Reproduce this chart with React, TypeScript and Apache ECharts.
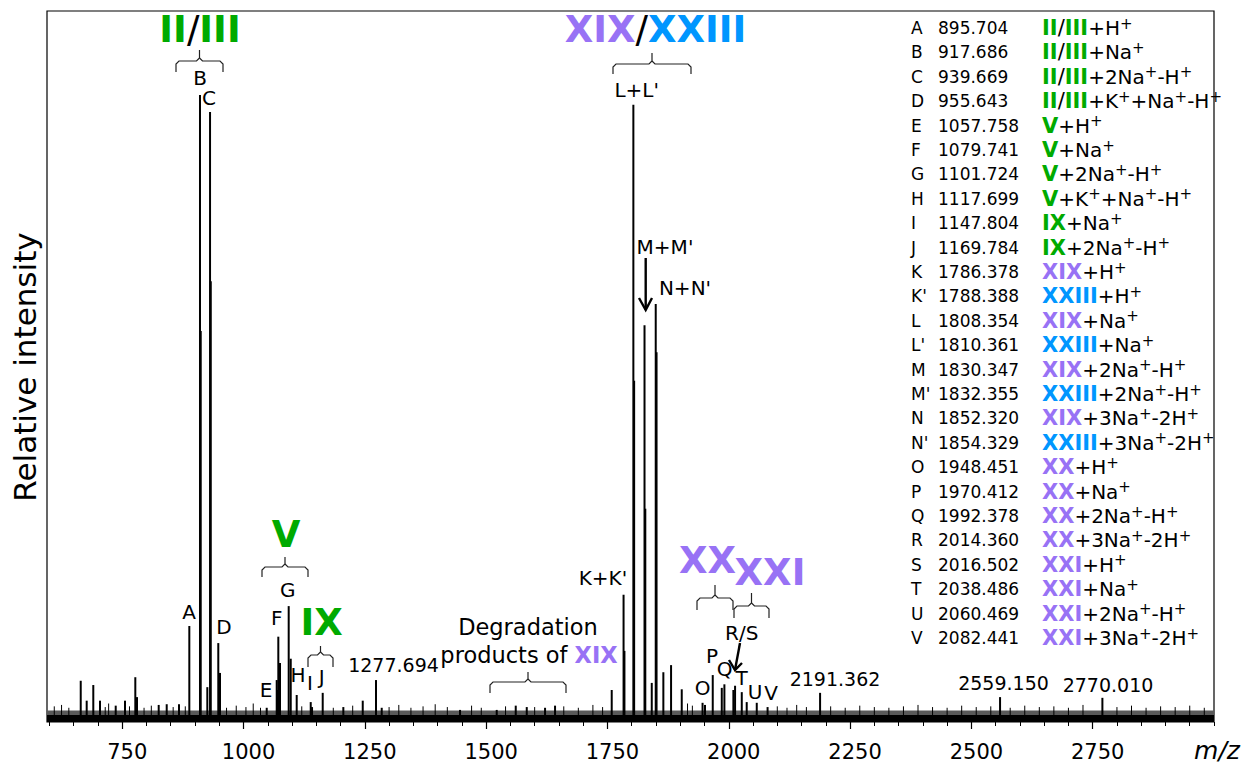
import React, { useEffect, useRef } from "react";
import * as echarts from "echarts";

// ---------- data ----------
const MZ_MIN = 595;
const MZ_MAX = 3000;
const MAJOR_TICKS = [750, 1000, 1250, 1500, 1750, 2000, 2250, 2500, 2750];
const MINOR_TICKS = [600, 650, 700, 800, 850, 900, 950, 1050, 1100, 1150, 1200, 1300, 1350, 1400, 1450, 1550, 1600, 1650, 1700, 1800, 1850, 1900, 1950, 2050, 2100, 2150, 2200, 2300, 2350, 2400, 2450, 2550, 2600, 2650, 2700, 2800, 2850, 2900, 2950, 3000];

// main peaks: m/z and relative intensity
const PEAK_MZ = [664.5, 676.8, 690.4, 704.2, 736.6, 755.8, 777.0, 780.5, 825.2, 841.7, 867.0, 888.3, 910.3, 911.8, 925.4, 931.0, 932.5, 948.0, 951.5, 1047.8, 1068.4, 1069.5, 1071.7, 1075.2, 1093.1, 1097.3, 1109.6, 1138.5, 1141.2, 1163.2, 1205.7, 1245.7, 1273.0, 1284.8, 1446.2, 1521.8, 1561.0, 1583.7, 1621.4, 1642.0, 1758.8, 1783.2, 1785.0, 1803.4, 1805.0, 1826.4, 1828.0, 1841.3, 1849.5, 1851.2, 1865.2, 1881.1, 1903.1, 1946.0, 1951.0, 1967.0, 1985.6, 1991.0, 2009.5, 2013.0, 2026.8, 2037.0, 2057.7, 2080.0, 2188.2, 2559.1, 2770.0];
const PEAK_INT = [5.8, 3.0, 5.2, 3.0, 2.3, 3.0, 6.3, 3.5, 2.4, 2.5, 2.5, 13.5, 88.2, 55, 4.9, 85.8, 62, 11.1, 6.9, 2.0, 5.9, 4.5, 12.0, 8.3, 16.3, 8.9, 3.8, 2.8, 2.1, 4.1, 2.1, 3.0, 5.9, 2.0, 1.7, 1.7, 2.3, 2.1, 2.0, 2.3, 4.5, 17.9, 10, 86.8, 48, 55.8, 30, 5.5, 58.8, 52, 7.0, 8.0, 4.6, 2.7, 2.4, 6.6, 4.8, 5.3, 4.5, 5.1, 4.2, 2.8, 2.7, 2.1, 4.1, 3.5, 3.4];

// small noise spikes (estimated)
const NOISE_MZ = [610, 625, 640, 715, 722, 765, 795, 810, 855, 880, 965, 985, 1005, 1020, 1035, 1120, 1185, 1225, 1300, 1320, 1345, 1370, 1395, 1420, 1470, 1490, 1540, 1600, 1660, 1690, 1720, 1740, 1915, 1925, 2100, 2120, 2140, 2160, 2210, 2240, 2270, 2300, 2330, 2360, 2390, 2420, 2450, 2480, 2510, 2540, 2580, 2610, 2640, 2670, 2700, 2730, 2800, 2830, 2860, 2890, 2920, 2950, 2980];
const NOISE_INT = [2.2, 2.4, 2.0, 2.1, 2.6, 2.2, 2.0, 2.3, 2.1, 2.2, 2.0, 2.3, 2.1, 2.6, 2.0, 2.2, 2.0, 2.3, 2.1, 2.4, 2.0, 2.2, 2.5, 2.1, 2.3, 2.0, 2.2, 2.1, 2.2, 2.0, 2.4, 2.1, 2.6, 2.3, 2.2, 2.0, 2.4, 2.1, 2.2, 2.0, 2.3, 2.1, 2.0, 2.2, 2.4, 2.1, 2.0, 2.3, 2.1, 2.2, 2.0, 2.3, 2.1, 2.2, 2.0, 2.4, 2.1, 2.3, 2.0, 2.2, 2.1, 2.3, 2.0];

const BASE_LEVEL = 0.9;
const NOISE_BAND = [1.0, 1.6];

// legend table
const LEG_LETTERS = ["A", "B", "C", "D", "E", "F", "G", "H", "I", "J", "K", "K'", "L", "L'", "M", "M'", "N", "N'", "O", "P", "Q", "R", "S", "T", "U", "V"];
const LEG_MZ = ["895.704", "917.686", "939.669", "955.643", "1057.758", "1079.741", "1101.724", "1117.699", "1147.804", "1169.784", "1786.378", "1788.388", "1808.354", "1810.361", "1830.347", "1832.355", "1852.320", "1854.329", "1948.451", "1970.412", "1992.378", "2014.360", "2016.502", "2038.486", "2060.469", "2082.441"];
const LEG_CMP = ["II/III", "II/III", "II/III", "II/III", "V", "V", "V", "V", "IX", "IX", "XIX", "XXIII", "XIX", "XXIII", "XIX", "XXIII", "XIX", "XXIII", "XX", "XX", "XX", "XX", "XXI", "XXI", "XXI", "XXI"];
const LEG_ADD = ["+H^", "+Na^", "+2Na^-H^", "+K^+Na^-H^", "+H^", "+Na^", "+2Na^-H^", "+K^+Na^-H^", "+Na^", "+2Na^-H^", "+H^", "+H^", "+Na^", "+Na^", "+2Na^-H^", "+2Na^-H^", "+3Na^-2H^", "+3Na^-2H^", "+H^", "+Na^", "+2Na^-H^", "+3Na^-2H^", "+H^", "+Na^", "+2Na^-H^", "+3Na^-2H^"];

const GREEN = "#00aa00";
const PURPLE = "#9872f5";
const BLUE = "#0096ff";
const FONT = "DejaVu Sans";

function groupColorKey(part: string): string {
  if (["II", "III", "V", "IX"].includes(part)) return "g";
  if (part === "XXIII") return "b";
  return "p";
}

function compoundRich(cmp: string, suffix: string): string {
  return cmp
    .split("/")
    .map((p) => `{${groupColorKey(p)}${suffix}|${p}}`)
    .join(`{k${suffix}|/}`);
}

function adductRich(add: string): string {
  const parts = add.split("^");
  let s = "";
  for (let i = 0; i < parts.length - 1; i++) {
    s += `{n|${parts[i]}}{s|+}`;
  }
  if (parts[parts.length - 1]) s += `{n|${parts[parts.length - 1]}}`;
  return s;
}

const RICH: any = {
  g: { fontFamily: FONT, fontSize: 21, fontWeight: "bold", fill: GREEN, color: GREEN, lineHeight: 24 },
  p: { fontFamily: FONT, fontSize: 21, fontWeight: "bold", fill: PURPLE, color: PURPLE, lineHeight: 24 },
  b: { fontFamily: FONT, fontSize: 21, fontWeight: "bold", fill: BLUE, color: BLUE, lineHeight: 24 },
  k: { fontFamily: FONT, fontSize: 21, fill: "#000", color: "#000", lineHeight: 24 },
  n: { fontFamily: FONT, fontSize: 20, fill: "#000", color: "#000", lineHeight: 24 },
  s: { fontFamily: FONT, fontSize: 15, fill: "#000", color: "#000", lineHeight: 11, verticalAlign: "top" },
  gL: { fontFamily: FONT, fontSize: 37, fontWeight: "bold", fill: GREEN, color: GREEN },
  pL: { fontFamily: FONT, fontSize: 37, fontWeight: "bold", fill: PURPLE, color: PURPLE },
  bL: { fontFamily: FONT, fontSize: 37, fontWeight: "bold", fill: BLUE, color: BLUE },
  kL: { fontFamily: FONT, fontSize: 37, fill: "#000", color: "#000" },
  t: { fontFamily: FONT, fontSize: 22.5, fill: "#000", color: "#000" },
  pM: { fontFamily: FONT, fontSize: 22.5, fontWeight: "bold", fill: PURPLE, color: PURPLE },
};

function txt(text: string, x: number, y: number, size = 20, extra: any = {}) {
  return {
    type: "text",
    x,
    y,
    z: 100,
    style: {
      text,
      fontFamily: FONT,
      fontSize: size,
      fill: "#000",
      align: "center",
      verticalAlign: "middle",
      ...extra,
    },
  };
}

function richTxt(text: string, x: number, y: number, align = "center") {
  return {
    type: "text",
    x,
    y,
    z: 100,
    style: { text, rich: RICH, align, verticalAlign: "middle", fontFamily: FONT, fontSize: 20, fill: "#000" },
  };
}

function brace(x1: number, x2: number, yh: number, ytop: number, ybot: number) {
  const xc = (x1 + x2) / 2;
  const st = { stroke: "#222", lineWidth: 1.2, fill: null };
  return [
    {
      type: "polyline",
      z: 100,
      shape: { points: [[x1, ybot], [x1, yh + 3], [x1 + 3, yh], [xc - 3, yh], [xc, yh - 3], [xc, ytop]] },
      style: st,
    },
    {
      type: "polyline",
      z: 100,
      shape: { points: [[x2, ybot], [x2, yh + 3], [x2 - 3, yh], [xc + 3, yh], [xc, yh - 3]] },
      style: st,
    },
  ];
}

function arrow(x1: number, y1: number, x2: number, y2: number, w1: number[], w2: number[]) {
  return [
    { type: "line", z: 100, shape: { x1, y1, x2, y2 }, style: { stroke: "#000", lineWidth: 2.4 } },
    { type: "polyline", z: 100, shape: { points: [w1, [x2, y2], w2] }, style: { stroke: "#000", lineWidth: 2.4, fill: null } },
  ];
}

export default function App() {
  const ref = useRef<HTMLDivElement>(null);

  useEffect(() => {
    document.body.style.margin = "0";
    const chart = echarts.init(ref.current!, null, { renderer: "svg" });

    const peaks = PEAK_MZ.map((m, i) => [m, PEAK_INT[i]]);
    const noise = NOISE_MZ.map((m, i) => [m, NOISE_INT[i]]);

    const stickSeries = (name: string, data: number[][], width: number, z: number) => ({
      name,
      type: "custom",
      z,
      clip: true,
      data,
      encode: { x: 0, y: 1 },
      renderItem: (params: any, api: any) => {
        const p0 = api.coord([api.value(0), BASE_LEVEL]);
        const p1 = api.coord([api.value(0), api.value(1)]);
        return {
          type: "line",
          shape: { x1: p0[0], y1: p0[1], x2: p1[0], y2: p1[1] },
          style: { stroke: "#000", lineWidth: width },
        };
      },
    });

    const graphics: any[] = [];
    // legend table
    LEG_LETTERS.forEach((L, i) => {
      const y = 28 + i * 24.4;
      graphics.push(txt(L, 911, y, 17, { align: "left" }));
      graphics.push(txt(LEG_MZ[i], 938, y, 17, { align: "left" }));
      graphics.push(richTxt(compoundRich(LEG_CMP[i], "") + adductRich(LEG_ADD[i]), 1042, y, "left"));
    });

    // big group labels
    graphics.push(richTxt(compoundRich("II/III", "L"), 200, 29));
    graphics.push(richTxt(compoundRich("XIX/XXIII", "L"), 655.5, 29.5));
    graphics.push(richTxt(compoundRich("V", "L"), 286, 534));
    graphics.push(richTxt(compoundRich("IX", "L"), 321.7, 622));
    graphics.push(richTxt(compoundRich("XX", "L"), 707.5, 560));
    graphics.push(richTxt(compoundRich("XXI", "L"), 770, 572));

    // braces
    graphics.push(...brace(176, 223, 61, 50, 72));
    graphics.push(...brace(262, 308, 567, 557, 577));
    graphics.push(...brace(308, 333, 655, 646, 667));
    graphics.push(...brace(490, 566, 682, 672, 693));
    graphics.push(...brace(613, 691, 64, 53, 74));
    graphics.push(...brace(697, 733, 598, 585, 610));
    graphics.push(...brace(734, 769, 606, 593, 618));

    // arrows
    graphics.push(...arrow(645.7, 258, 645.7, 310, [639, 298], [652, 298]));
    graphics.push(...arrow(740, 643, 735, 670, [729, 660], [742, 663]));

    // peak labels
    const labels: [string, number, number][] = [
      ["B", 200, 78], ["C", 209, 98], ["A", 189, 612], ["D", 224, 627],
      ["G", 287.7, 590], ["F", 276.7, 618], ["E", 266, 690], ["H", 298, 675],
      ["I", 310, 683], ["J", 321.7, 677], ["L+L'", 636.7, 90], ["M+M'", 665, 247],
      ["N+N'", 685, 288], ["K+K'", 603, 578], ["R/S", 741.7, 633], ["P", 712, 656],
      ["Q", 724.5, 669], ["T", 741.7, 678], ["O", 702.7, 688], ["U", 755, 692],
      ["V", 771, 693],
    ];
    labels.forEach(([t, x, y]) => graphics.push(txt(t, x, y, 20)));
    graphics.push(txt("Degradation", 528, 627, 22.5));
    graphics.push(richTxt("{t|products of }{pM|XIX}", 529, 655));

    const numLabels: [string, number, number][] = [
      ["1277.694", 393.5, 665], ["2191.362", 835, 679], ["2559.150", 1003.5, 683], ["2770.010", 1108, 685],
    ];
    numLabels.forEach(([t, x, y]) => graphics.push(txt(t, x, y, 19)));

    // axis titles
    graphics.push({
      type: "text",
      x: 25,
      y: 367,
      rotation: Math.PI / 2,
      z: 100,
      style: { text: "Relative intensity", fontFamily: FONT, fontSize: 31, fill: "#000", align: "center", verticalAlign: "middle" },
    });
    graphics.push(txt("m/z", 1217, 750, 25, { fontStyle: "italic" }));

    chart.setOption({
      animation: false,
      backgroundColor: "#fff",
      grid: { left: 47, right: 35, top: 11, bottom: 41, show: true, borderColor: "#000", borderWidth: 1.2, backgroundColor: "transparent" },
      xAxis: [
        {
          type: "value",
          min: MZ_MIN,
          max: MZ_MAX,
          position: "bottom",
          axisLine: { show: false },
          splitLine: { show: false },
          axisTick: { show: true, customValues: MAJOR_TICKS, length: 7, lineStyle: { color: "#000", width: 1.2 } },
          axisLabel: {
            show: true,
            customValues: MAJOR_TICKS,
            fontSize: 21,
            fontFamily: FONT,
            color: "#000",
            margin: 19,
            padding: [0, 0, 0, 10],
            formatter: (v: number) => String(v),
          },
        },
        {
          type: "value",
          min: MZ_MIN,
          max: MZ_MAX,
          position: "bottom",
          axisLine: { show: false },
          splitLine: { show: false },
          axisTick: { show: true, customValues: MINOR_TICKS, length: 4, lineStyle: { color: "#000", width: 1 } },
          axisLabel: { show: false },
        },
      ],
      yAxis: {
        type: "value",
        min: 0,
        max: 100,
        axisLine: { show: false },
        axisTick: { show: false },
        axisLabel: { show: false },
        splitLine: { show: false },
      },
      series: [
        {
          name: "noiseHi",
          type: "line",
          z: 1,
          symbol: "none",
          data: [[MZ_MIN, NOISE_BAND[1]], [MZ_MAX, NOISE_BAND[1]]],
          lineStyle: { width: 0 },
          areaStyle: { color: "#5a5a5a", opacity: 1 },
        },
        {
          name: "noiseLo",
          type: "line",
          z: 2,
          symbol: "none",
          data: [[MZ_MIN, NOISE_BAND[0]], [MZ_MAX, NOISE_BAND[0]]],
          lineStyle: { width: 0 },
          areaStyle: { color: "#000", opacity: 1 },
        },
        stickSeries("noise", noise, 1, 3),
        stickSeries("spectrum", peaks, 2, 4),
      ],
      graphic: graphics,
    });

    return () => chart.dispose();
  }, []);

  return <div ref={ref} style={{ width: 1249, height: 763, position: "absolute", left: 0, top: 0 }} />;
}
